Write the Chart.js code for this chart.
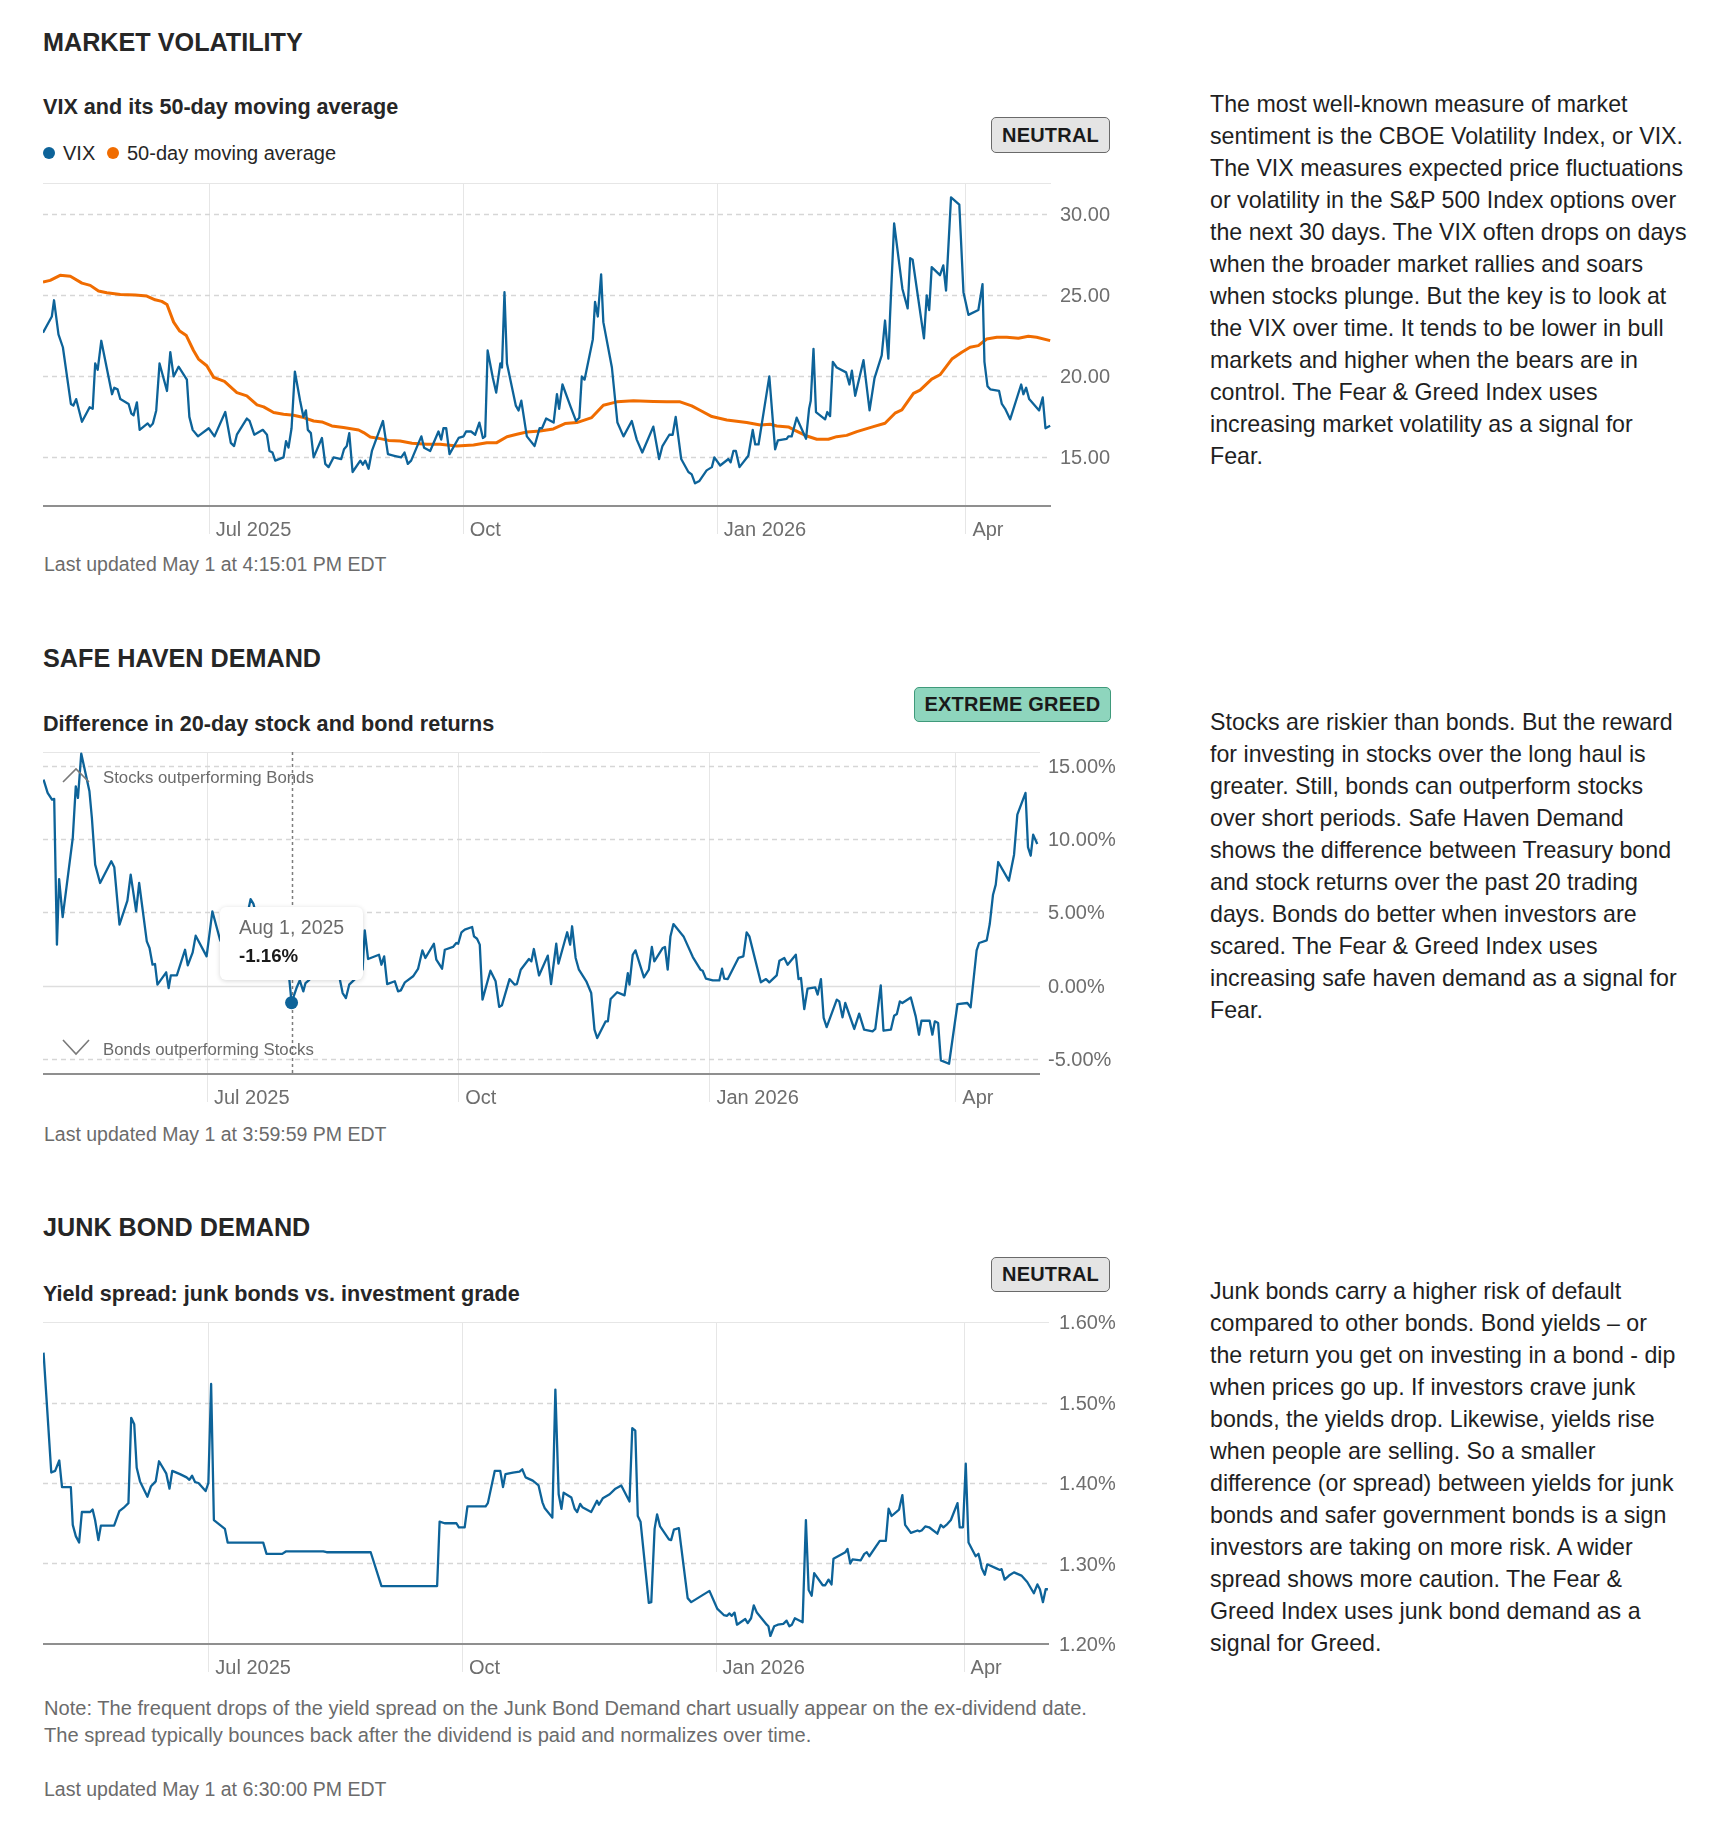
<!DOCTYPE html>
<html>
<head>
<meta charset="utf-8">
<script src="https://cdn.jsdelivr.net/npm/chart.js@4.4.1/dist/chart.umd.min.js"></script>
<style>
  body { margin: 0; background: #fff; }
  #page { position: relative; width: 1710px; height: 1834px; font-family: 'Liberation Sans', Arial, sans-serif; color: #262626; }
  .abs { position: absolute; white-space: nowrap; z-index: 2; }
  .title { font-size: 25.2px; font-weight: 700; line-height: 30px; }
  .sub { font-size: 21.6px; font-weight: 700; line-height: 26px; }
  .updated { font-size: 19.5px; line-height: 24px; color: #6b6b6b; }
  .copy { font-size: 23.2px; line-height: 32px; color: #1f1f1f; }
  .badge { box-sizing: border-box; border-radius: 5px; font-size: 20px; font-weight: 700; color: #1a1a1a;
           display: flex; align-items: center; justify-content: center; letter-spacing: 0.2px; }
  .neutral { background: #e4e4e4; border: 1.5px solid #6a6a6a; }
  .greed { background: #8ed5bd; border: 1.5px solid #3f9a7b; }
  .dot { width: 12px; height: 12px; border-radius: 50%; }
  .legend { font-size: 20px; line-height: 24px; color: #262626; }
  .plot { position: absolute; left: 43px; width: 1080px; z-index: 1; }
  .note { font-size: 16.8px; line-height: 20px; color: #6b6b6b; }
  .tip { background: #fff; border-radius: 6px; box-shadow: 0 1px 5px rgba(0,0,0,.16); width: 143px; height: 73px; }
</style>
</head>
<body>
<div id="page">
  <!-- Market volatility -->
  <div class="abs title" style="left:43px;top:27px">MARKET VOLATILITY</div>
  <div class="abs sub" style="left:43px;top:94px">VIX and its 50-day moving average</div>
  <div class="abs dot" style="left:43px;top:147px;background:#0d6399"></div>
  <div class="abs legend" style="left:63px;top:141px">VIX</div>
  <div class="abs dot" style="left:107px;top:147px;background:#f06c00"></div>
  <div class="abs legend" style="left:127px;top:141px">50-day moving average</div>
  <div class="abs badge neutral" style="left:991px;top:117px;width:119px;height:36px">NEUTRAL</div>
  <div class="plot" style="top:169px;height:382px"><canvas id="vixChart"></canvas></div>
  <div class="abs updated" style="left:44px;top:552px">Last updated May 1 at 4:15:01 PM EDT</div>
  <div class="abs copy" style="left:1210px;top:88px">The most well-known measure of market<br>sentiment is the CBOE Volatility Index, or VIX.<br>The VIX measures expected price fluctuations<br>or volatility in the S&amp;P 500 Index options over<br>the next 30 days. The VIX often drops on days<br>when the broader market rallies and soars<br>when stocks plunge. But the key is to look at<br>the VIX over time. It tends to be lower in bull<br>markets and higher when the bears are in<br>control. The Fear &amp; Greed Index uses<br>increasing market volatility as a signal for<br>Fear.</div>

  <!-- Safe haven demand -->
  <div class="abs title" style="left:43px;top:643px">SAFE HAVEN DEMAND</div>
  <div class="abs sub" style="left:43px;top:711px">Difference in 20-day stock and bond returns</div>
  <div class="abs badge greed" style="left:914px;top:687px;width:197px;height:35px">EXTREME GREED</div>
  <div class="plot" style="top:738px;height:381px"><canvas id="safeChart"></canvas></div>
  <svg class="abs" style="left:60px;top:765px" width="32" height="20"><polyline points="3,17 16,4 29,17" fill="none" stroke="#7a7a7a" stroke-width="1.6"/></svg>
  <div class="abs note" style="left:103px;top:768px">Stocks outperforming Bonds</div>
  <svg class="abs" style="left:60px;top:1037px" width="32" height="20"><polyline points="3,3 16,17 29,3" fill="none" stroke="#7a7a7a" stroke-width="1.6"/></svg>
  <div class="abs note" style="left:103px;top:1040px">Bonds outperforming Stocks</div>
  <div class="abs tip" id="tip" style="left:220px;top:907px">
    <div style="position:absolute;left:19px;top:8px;font-size:19.5px;line-height:24px;color:#6b6b6b" id="tipDate"></div>
    <div style="position:absolute;left:19px;top:38px;font-size:18.7px;line-height:22px;font-weight:700;color:#1a1a1a" id="tipValue"></div>
  </div>
  <div class="abs updated" style="left:44px;top:1122px">Last updated May 1 at 3:59:59 PM EDT</div>
  <div class="abs copy" style="left:1210px;top:706px">Stocks are riskier than bonds. But the reward<br>for investing in stocks over the long haul is<br>greater. Still, bonds can outperform stocks<br>over short periods. Safe Haven Demand<br>shows the difference between Treasury bond<br>and stock returns over the past 20 trading<br>days. Bonds do better when investors are<br>scared. The Fear &amp; Greed Index uses<br>increasing safe haven demand as a signal for<br>Fear.</div>

  <!-- Junk bond demand -->
  <div class="abs title" style="left:43px;top:1212px">JUNK BOND DEMAND</div>
  <div class="abs sub" style="left:43px;top:1281px">Yield spread: junk bonds vs. investment grade</div>
  <div class="abs badge neutral" style="left:991px;top:1257px;width:119px;height:35px">NEUTRAL</div>
  <div class="plot" style="top:1308px;height:381px"><canvas id="junkChart"></canvas></div>
  <div class="abs updated" style="left:44px;top:1695px;line-height:27px;font-size:20.1px">Note: The frequent drops of the yield spread on the Junk Bond Demand chart usually appear on the ex-dividend date.<br>The spread typically bounces back after the dividend is paid and normalizes over time.</div>
  <div class="abs updated" style="left:44px;top:1777px">Last updated May 1 at 6:30:00 PM EDT</div>
  <div class="abs copy" style="left:1210px;top:1275px">Junk bonds carry a higher risk of default<br>compared to other bonds. Bond yields – or<br>the return you get on investing in a bond - dip<br>when prices go up. If investors crave junk<br>bonds, the yields drop. Likewise, yields rise<br>when people are selling. So a smaller<br>difference (or spread) between yields for junk<br>bonds and safer government bonds is a sign<br>investors are taking on more risk. A wider<br>spread shows more caution. The Fear &amp;<br>Greed Index uses junk bond demand as a<br>signal for Greed.</div>
</div>

<script>
// x = days since May 1, 2025
const monthTickDays = [61, 153, 245, 335];
const monthTickLabels = ['Jul 2025', 'Oct', 'Jan 2026', 'Apr'];

const vixTicks = [15, 20, 25, 30];
const safeHavenTicks = [-5, 0, 5, 10, 15];
const junkTicks = [1.2, 1.3, 1.4, 1.5, 1.6];

// [day, value]
const vixSeries = [
  [1,22.7],[4.2,23.7],[5,24.7],[6.6,22.6],[8.2,21.8],[11.1,18.3],[12,18.2],[13,18.6],[15.1,17.2],[17.9,18.1],
  [19,18.0],[19.9,20.8],[20.8,20.4],[22.1,22.2],[26,18.9],[26.8,19.3],[28,19.2],[29,18.6],[32,18.3],[33,17.7],
  [33.8,17.6],[35,18.4],[36,16.7],[38.9,17.1],[39.8,16.9],[40.8,17.1],[42,17.9],[43.2,20.8],[45.9,19.1],[47.1,21.5],
  [48.3,20.0],[50.1,20.6],[53.1,19.8],[54,17.5],[55.2,16.7],[57.1,16.3],[61,16.8],[63.1,16.3],[67,17.8],[69,15.9],
  [70.2,15.7],[71.2,16.4],[74.8,17.4],[75.8,17.25],[77.5,16.4],[80.6,16.7],[82.1,16.4],[83,15.4],[84.1,15.3],[85.1,14.8],
  [88.1,15.0],[89,16.0],[89.9,15.6],[91,16.8],[92.2,20.3],[94.1,18.5],[95.3,17.5],[96.2,17.9],[96.9,16.7],[98,16.5],
  [99,15.0],[102,16.2],[103.2,14.6],[104.4,14.4],[106.2,15.0],[109,14.9],[110,15.5],[111,15.7],[111.9,16.5],[113.1,14.1],
  [115.9,14.8],[116.8,14.55],[117.7,14.8],[118.9,14.3],[120.1,15.4],[124.1,17.25],[125.9,15.2],[128.2,15.1],[130.7,15.0],[131.9,15.3],
  [133.1,14.6],[134.3,14.8],[138,16.3],[139,15.6],[141.2,15.4],[144.2,16.6],[145.2,16.1],[146,16.8],[147,16.8],[148.2,15.2],
  [151.5,16.2],[153.3,16.3],[154.2,16.6],[156,16.6],[157.5,16.4],[159,17.15],[160.3,16.2],[161.1,16.3],[162,21.6],[163.9,19.9],
  [165.1,19.0],[166.6,20.8],[167.2,20.55],[168.1,25.2],[169,20.8],[172.2,18.2],[173.2,17.9],[174.2,18.5],[176.2,16.3],[179,15.7],
  [180.8,16.8],[181.7,16.8],[183.2,17.4],[185.9,17.15],[187.1,18.9],[187.9,18.0],[189.1,19.5],[192.1,18.1],[194,17.25],[195.2,17.45],
  [196.1,20.0],[197.1,19.8],[200.1,22.3],[200.9,24.6],[201.9,23.7],[203.1,26.3],[203.9,23.35],[207,20.55],[209,17.15],[211.2,16.3],
  [214.2,17.25],[216,16.1],[218,15.3],[222,16.9],[224.1,14.9],[225.3,15.7],[227.8,16.4],[229,16.4],[230.1,17.5],[232.1,14.9],
  [234.7,14.1],[235.9,13.95],[237.1,13.4],[238.7,13.55],[241.3,14.2],[243.2,14.4],[244.1,15.0],[246.2,14.5],[249.2,14.9],[250,14.7],
  [251,15.4],[251.9,15.4],[253.2,14.4],[256.4,15.1],[258,16.7],[258.9,15.8],[260.1,15.8],[264,20.0],[266.1,15.5],[267.1,16.05],
  [270.3,16.15],[270.9,16.3],[272.1,16.3],[273.9,17.45],[277.3,16.15],[278.4,18.0],[279,18.5],[280,21.7],[280.9,17.8],[284.2,17.35],
  [285,17.8],[286,17.55],[287,20.9],[288.4,20.55],[291.8,20.25],[293,19.5],[293.9,20.35],[295.1,18.8],[298.1,21.0],[300.3,17.9],
  [302.1,19.9],[304.7,21.3],[305.9,23.45],[307.1,21.1],[307.7,23.65],[309.2,29.45],[312.2,25.4],[314.1,24.2],[315,27.3],[315.9,27.2],
  [320,22.35],[321,25.0],[321.9,24.1],[322.8,26.75],[325.8,26.25],[327,26.85],[328,25.3],[329.8,31.05],[332.8,30.6],[334.3,25.2],
  [336.1,23.8],[339.7,24.1],[341.2,25.7],[341.9,20.9],[343,19.4],[344,19.2],[347.2,19.1],[348.2,18.3],[349.4,18.0],[351.2,17.35],
  [355.2,19.5],[356,18.9],[357,19.3],[358.1,18.6],[361.7,17.9],[363,18.7],[364,16.8],[365.7,16.95]
];

const vixAverage = [
  [1,25.83],[3.6,25.93],[7.2,26.24],[10.9,26.18],[15.1,25.76],[18.1,25.62],[21.1,25.27],[24.1,25.17],[29,25.06],[34.4,25.02],
  [38.6,24.96],[41.6,24.73],[44,24.63],[45.9,24.44],[48.3,23.35],[50.5,22.8],[52.9,22.52],[55.5,21.6],[57.3,21.07],[60.3,20.66],
  [62.8,19.94],[66.7,19.69],[71.2,19.0],[74.8,18.8],[78.5,18.24],[80.9,18.12],[84.5,17.77],[88.1,17.66],[91.7,17.6],[95.4,17.46],
  [99,17.25],[102,17.19],[105.6,16.94],[109.8,16.84],[115.3,16.69],[117.1,16.53],[119.5,16.26],[123.1,16.16],[126.1,16.05],[130.3,16.01],
  [134.6,15.87],[140,15.81],[144.8,15.81],[150.8,15.7],[156.9,15.76],[161.7,15.91],[165.3,15.91],[169,16.28],[172.6,16.43],[176.2,16.57],
  [181,16.63],[185.8,16.76],[190,17.09],[194.3,17.15],[199.7,17.46],[203.9,18.22],[208.8,18.43],[214.8,18.49],[222,18.45],[226.9,18.43],
  [231.7,18.43],[235.9,18.18],[238.9,17.91],[243.2,17.52],[248.6,17.31],[255.8,17.15],[260.7,17.0],[264.3,17.05],[266.7,16.94],[270.9,16.88],
  [273.3,16.67],[277.6,16.32],[281.2,16.12],[285.4,16.12],[288.4,16.28],[292,16.36],[295.7,16.59],[301.7,16.9],[305.9,17.11],[309.5,17.73],
  [312,17.93],[316.2,18.95],[318.6,19.15],[322.8,19.83],[325.8,20.1],[330.1,21.07],[333.7,21.49],[336.7,21.8],[339.7,21.9],[342.7,22.31],
  [346.4,22.42],[350,22.42],[354.2,22.36],[357.8,22.48],[360.8,22.42],[365.7,22.21]
];

const safeHavenSeries = [
  [1.2,14.05],[2.7,13.14],[4.3,12.68],[5.1,12.73],[6.1,2.8],[6.9,7.27],[8.2,4.68],[11.9,10.07],[13,13.59],[13.8,12.8],
  [15,15.82],[18,13.25],[18.9,11.43],[20.1,8.25],[21.9,7.0],[26,8.48],[27.1,8.07],[29,4.16],[31.9,5.8],[33.1,7.57],
  [35.1,5.07],[36.2,7.0],[39,3.02],[40,2.57],[41.1,1.43],[42,1.48],[42.9,0.07],[46.1,0.91],[47,-0.16],[47.8,0.7],
  [50,0.7],[53,2.45],[54,1.39],[55.8,2.27],[56.9,3.41],[60.9,2.0],[63,5.07],[65.8,3.14],[68,2.3],[70,3.1],
  [72,3.8],[74,4.5],[76,5.0],[77,5.9],[78,5.6],[80,4.1],[82,3.0],[84,3.5],[86,2.3],[88,1.7],
  [90,2.0],[91.2,0.4],[92,-1.16],[93.8,-0.16],[95,0.36],[96.3,-0.39],[97.1,0.18],[98.5,0.4],[100,1.4],[102,2.5],
  [104,1.8],[106,2.9],[108,2.1],[109.7,0.4],[110.7,-0.5],[111.9,-0.84],[113.1,0.07],[115.2,0.45],[118,1.1],[118.8,3.77],
  [120,1.82],[124,2.11],[124.9,1.43],[125.9,2.0],[127,0.11],[129.8,0.3],[131,-0.39],[132,-0.32],[133.5,0.23],[136.5,0.64],
  [138.3,1.14],[139.9,2.41],[141,1.89],[144.1,2.86],[145,1.77],[147.1,1.16],[148.1,2.45],[151.1,2.64],[152.3,2.91],[153,2.86],
  [154.2,3.64],[155.4,3.82],[158.1,4.0],[158.8,3.36],[159.9,3.2],[160.9,2.8],[161.9,-0.95],[164.8,1.02],[166.7,0.3],[168,-1.45],
  [169,-1.34],[171.8,0.45],[173.7,0.07],[174.5,0.11],[175.9,1.09],[178.9,1.82],[179.8,1.66],[180.7,2.5],[182.6,0.7],[185.8,2.05],
  [187,0.11],[188.9,2.86],[189.7,1.5],[192.9,3.64],[194,2.8],[194.7,4.05],[196,1.89],[197.2,1.09],[199.9,0.3],[201.7,-0.5],
  [202.9,-3.0],[203.9,-3.57],[207,-2.43],[207.8,-2.43],[208.8,-0.91],[211.2,-0.45],[213.9,-0.66],[215.1,0.86],[215.7,0.07],[216.9,2.11],
  [217.9,2.41],[221,0.57],[222.8,1.09],[223.9,2.64],[224.8,1.66],[227.9,2.57],[228.7,2.64],[229.7,1.09],[230.7,3.36],[231.8,4.2],
  [235.5,3.36],[238.9,1.95],[241.7,1.09],[242.5,1.02],[243.7,0.48],[246.2,0.36],[248.6,0.36],[249.6,1.16],[250.4,0.48],[251.7,0.45],
  [255.6,1.89],[257.4,2.0],[258.6,3.64],[259.6,3.36],[263.8,0.23],[265.7,0.45],[266.9,0.23],[269.6,0.7],[270.6,1.7],[272.4,1.89],
  [273.6,1.43],[276.6,2.11],[277.6,0.45],[278.5,0.52],[279.7,-1.59],[280.9,-0.2],[283.7,-0.11],[284.6,-0.61],[285.8,0.45],[286.8,-2.2],
  [287.9,-2.82],[291.6,-0.95],[292.5,-1.07],[293.7,-2.16],[294.7,-1.18],[298,-2.95],[299.8,-1.91],[301.6,-3.0],[304.7,-3.11],[305.7,-2.95],
  [307.7,0.02],[308.7,-3.07],[311.4,-3.0],[312.6,-2.05],[313.6,-1.93],[314.7,-1.07],[315.6,-1.18],[318.7,-0.8],[320.5,-2.09],[321.7,-3.34],
  [322.6,-2.39],[325.6,-2.39],[326.6,-3.34],[327.5,-2.43],[328.7,-2.55],[329.7,-5.09],[332.7,-5.32],[335.8,-1.25],[339.4,-1.18],[340.6,-1.48],
  [342.8,2.41],[343.7,2.91],[346.5,3.09],[347.6,4.2],[348.8,6.2],[349.8,6.89],[350.7,8.43],[354.6,7.16],[356.5,8.93],[357.7,11.66],
  [360.7,13.14],[361.6,9.45],[362.6,8.86],[363.5,10.3],[365,9.66]
];

// hovered point shown in the static tooltip
const tooltipPoint = { day: 92, label: 'Aug 1, 2025', value: -1.16 };

const junkSpreadSeries = [
  [1.2,1.562],[4,1.413],[5.4,1.415],[6.9,1.428],[7.9,1.395],[11.1,1.395],[11.8,1.348],[12.9,1.334],[14.1,1.326],[15.1,1.364],
  [18.1,1.364],[19,1.367],[19.9,1.354],[21.1,1.329],[22,1.347],[26.8,1.347],[28.7,1.365],[30.2,1.369],[32,1.375],[33,1.481],
  [34.1,1.473],[35,1.419],[36.2,1.402],[38.9,1.383],[40.2,1.396],[41.9,1.402],[43.1,1.427],[45.7,1.412],[46.9,1.393],[47.9,1.415],
  [50.7,1.411],[53.1,1.407],[54.1,1.404],[55.1,1.409],[56.2,1.401],[57.4,1.4],[60,1.39],[61,1.4],[62,1.523],[63,1.354],
  [67,1.343],[68,1.326],[80.9,1.326],[82.1,1.312],[87.8,1.312],[89.1,1.315],[102.7,1.315],[103.9,1.314],[119.9,1.314],[123.8,1.272],
  [144,1.272],[144.9,1.352],[146.7,1.35],[151,1.35],[151.9,1.345],[154,1.345],[155,1.371],[161.6,1.371],[162.4,1.375],[164.9,1.415],
  [166.9,1.415],[167.9,1.395],[168.8,1.411],[171.5,1.413],[173.9,1.414],[174.9,1.417],[176.1,1.407],[178.7,1.403],[180.8,1.397],[182.2,1.376],
  [183,1.369],[185.8,1.357],[186.9,1.516],[188.1,1.386],[189.1,1.368],[189.9,1.388],[192.7,1.382],[193.9,1.368],[194.8,1.364],[195.9,1.374],
  [196.7,1.37],[199.9,1.364],[202,1.378],[202.7,1.373],[204.1,1.381],[206.6,1.386],[208.7,1.393],[210.8,1.397],[213.8,1.377],[214.8,1.468],
  [215.9,1.465],[216.8,1.359],[217.8,1.352],[220.8,1.251],[221.7,1.252],[222.9,1.343],[223.8,1.361],[224.9,1.346],[228.1,1.33],[228.9,1.329],
  [229.9,1.342],[231.7,1.344],[234.9,1.257],[236.2,1.252],[242.8,1.266],[245.6,1.244],[248,1.236],[249.2,1.235],[250,1.238],[250.9,1.235],
  [251.9,1.239],[252.8,1.224],[255.8,1.231],[256.7,1.226],[257.9,1.232],[258.9,1.248],[260,1.239],[263.6,1.224],[264.2,1.222],[264.9,1.21],
  [266.3,1.222],[267.6,1.224],[269.6,1.225],[270.8,1.229],[271.8,1.222],[272.7,1.224],[273.8,1.232],[276.6,1.227],[277.8,1.354],[278.8,1.267],
  [279.9,1.26],[280.8,1.288],[283.9,1.273],[284.8,1.273],[286,1.28],[287.1,1.274],[287.8,1.306],[292.1,1.314],[292.9,1.318],[293.9,1.3],
  [294.7,1.305],[297.7,1.304],[299,1.312],[299.9,1.314],[300.8,1.309],[304.6,1.328],[306.8,1.328],[307.8,1.368],[308.9,1.359],[311.6,1.367],
  [312.8,1.385],[313.8,1.348],[315.9,1.338],[318.3,1.341],[318.9,1.34],[319.8,1.341],[321.1,1.346],[322.5,1.345],[325.5,1.337],[326.7,1.348],
  [327.7,1.345],[329.1,1.349],[330.4,1.354],[332.8,1.375],[333.6,1.345],[334.8,1.345],[335.8,1.424],[336.8,1.326],[339.4,1.309],[340.4,1.312],
  [341,1.304],[341.6,1.294],[342.7,1.286],[343.6,1.299],[346.9,1.294],[348.2,1.292],[348.8,1.293],[349.9,1.28],[351.5,1.285],[353.3,1.289],
  [356,1.285],[358.1,1.277],[360.5,1.263],[361.8,1.274],[362.7,1.268],[363.8,1.252],[364.8,1.268],[365.6,1.268]
];

const BLUE = '#0d6399';
const ORANGE = '#f06c00';

Chart.defaults.font.family = "'Liberation Sans', Arial, sans-serif";
Chart.defaults.font.size = 20;
Chart.defaults.color = '#6e6e6e';

const toXY = (pts) => pts.map(([x, y]) => ({ x, y }));

// grid drawn by hand: dashed value lines, solid top / zero lines, month lines running under the axis
const refGrid = {
  id: 'refGrid',
  beforeDatasetsDraw(chart, args, opts) {
    const { ctx, chartArea: a, scales: { x, y } } = chart;
    const hline = (v, color, w) => {
      const py = Math.round(y.getPixelForValue(v)) + 0.5;
      ctx.strokeStyle = color; ctx.lineWidth = w;
      ctx.beginPath(); ctx.moveTo(a.left, py); ctx.lineTo(a.right, py); ctx.stroke();
    };
    ctx.save();
    ctx.strokeStyle = '#e6e6e6'; ctx.lineWidth = 1;
    monthTickDays.forEach((d) => {
      const px = Math.round(x.getPixelForValue(d)) + 0.5;
      ctx.beginPath(); ctx.moveTo(px, a.top); ctx.lineTo(px, a.bottom + 28); ctx.stroke();
    });
    ctx.setLineDash([5, 4]);
    opts.dashed.forEach((v) => hline(v, '#d6d6d6', 1.3));
    ctx.setLineDash([]);
    ctx.strokeStyle = '#e6e6e6'; ctx.lineWidth = 1;
    ctx.beginPath(); ctx.moveTo(a.left, a.top + 0.5); ctx.lineTo(a.right, a.top + 0.5); ctx.stroke();
    (opts.solid || []).forEach((v) => hline(v, '#dedede', 1.6));
    if (opts.marker != null) {
      const px = Math.round(x.getPixelForValue(opts.marker)) + 0.5;
      ctx.setLineDash([3, 3]); ctx.strokeStyle = '#7d7d7d'; ctx.lineWidth = 1.5;
      ctx.beginPath(); ctx.moveTo(px, a.top); ctx.lineTo(px, a.bottom); ctx.stroke();
      ctx.setLineDash([]);
    }
    ctx.strokeStyle = '#8f8f8f'; ctx.lineWidth = 2;
    ctx.beginPath(); ctx.moveTo(a.left, a.bottom); ctx.lineTo(a.right, a.bottom); ctx.stroke();
    ctx.restore();
  },
};

function makeChart(id, datasets, cfg) {
  return new Chart(document.getElementById(id), {
    type: 'line',
    data: { datasets },
    plugins: [refGrid],
    options: {
      responsive: true,
      maintainAspectRatio: false,
      animation: false,
      events: [],
      layout: { autoPadding: false, padding: { top: 14, left: 0, right: 0, bottom: 0 } },
      elements: { point: { radius: 0 }, line: { tension: 0, borderJoinStyle: 'round' } },
      plugins: {
        legend: { display: false },
        tooltip: { enabled: false },
        refGrid: { dashed: cfg.dashed, solid: cfg.solid, marker: cfg.marker },
      },
      scales: {
        x: {
          type: 'linear', min: 1, max: 366,
          grid: { display: false, drawTicks: false }, border: { display: false },
          afterBuildTicks: (s) => { s.ticks = monthTickDays.map((v) => ({ value: v })); },
          afterFit: (s) => { s.height = 45; s.paddingLeft = 0; s.paddingRight = 0; },
          ticks: {
            autoSkip: false, maxRotation: 0, align: 'start', labelOffset: 7, padding: 12,
            callback: (v) => monthTickLabels[monthTickDays.indexOf(v)],
          },
        },
        y: {
          position: 'right', min: cfg.min, max: cfg.max,
          grid: { display: false, drawTicks: false }, border: { display: false },
          afterBuildTicks: (s) => { s.ticks = cfg.ticks.map((v) => ({ value: v })); },
          afterFit: (s) => { s.width = cfg.axisWidth; s.paddingTop = 0; s.paddingBottom = 0; },
          ticks: { padding: cfg.pad, labelOffset: 1.5, callback: cfg.format },
        },
      },
    },
  });
}

makeChart('vixChart', [
  { data: toXY(vixSeries), borderColor: BLUE, borderWidth: 2.3 },
  { data: toXY(vixAverage), borderColor: ORANGE, borderWidth: 3 },
], {
  min: 12, max: 31.94, ticks: vixTicks, dashed: vixTicks, axisWidth: 72, pad: 9,
  format: (v) => v.toFixed(2),
});

makeChart('safeChart', [
  { data: [{ x: tooltipPoint.day, y: tooltipPoint.value }], showLine: false,
    pointRadius: 6.5, pointBackgroundColor: BLUE, pointBorderWidth: 0 },
  { data: toXY(safeHavenSeries), borderColor: BLUE, borderWidth: 2.3 },
], {
  min: -6.02, max: 15.93, ticks: safeHavenTicks, dashed: [-5, 5, 10, 15], solid: [0],
  marker: tooltipPoint.day, axisWidth: 83, pad: 8,
  format: (v) => v.toFixed(2) + '%',
});

makeChart('junkChart', [
  { data: toXY(junkSpreadSeries), borderColor: BLUE, borderWidth: 2.3 },
], {
  min: 1.2, max: 1.6, ticks: junkTicks, dashed: [1.3, 1.4, 1.5], axisWidth: 74, pad: 10,
  format: (v) => v.toFixed(2) + '%',
});

document.getElementById('tipDate').textContent = tooltipPoint.label;
document.getElementById('tipValue').textContent = tooltipPoint.value.toFixed(2) + '%';
</script>
</body>
</html>
